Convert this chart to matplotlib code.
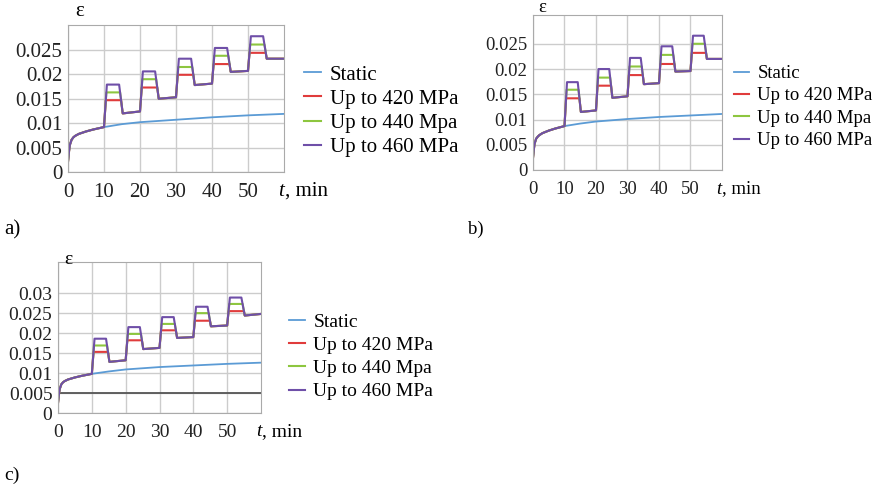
import matplotlib
matplotlib.use("Agg")
import matplotlib.pyplot as plt

FONT = 'Liberation Serif'
plt.rcParams['font.family'] = [FONT, 'DejaVu Serif']

# time points of the static creep curves, min
static_t = [0, 0.25, 0.5, 1, 1.5, 2, 3, 5, 7, 10, 15, 20, 30, 40, 50, 60]
static_a = [0.0021, 0.0040, 0.0055, 0.0066, 0.0071, 0.0074, 0.0078, 0.0083,
            0.0087, 0.0092, 0.0098, 0.0102, 0.0107, 0.0112, 0.0116, 0.0119]
static_b = [0.0024, 0.0040, 0.0052, 0.0062, 0.0066, 0.0069, 0.0073, 0.0078,
            0.0082, 0.0087, 0.0092, 0.0096, 0.0101, 0.0105, 0.0108, 0.0111]
static_c = [0.0025, 0.0045, 0.0060, 0.0072, 0.0077, 0.0080, 0.0084, 0.0089,
            0.0093, 0.0098, 0.0104, 0.0109, 0.0115, 0.0119, 0.0123, 0.0126]

# loading cycles start times
cycle_t = [10, 20, 30, 40, 50]

# strain before loading / after unloading in each cycle, and at 60 min
base_start_a = [0.0092, 0.0124, 0.0153, 0.0181, 0.0207]
base_end_a = [0.0120, 0.0150, 0.0178, 0.0205, 0.0232]
final_a = 0.0232
peak420_a = [0.0147, 0.0173, 0.0199, 0.0221, 0.0244]
peak440_a = [0.0163, 0.0190, 0.0215, 0.0238, 0.0261]
peak460_a = [0.0179, 0.0206, 0.0232, 0.0254, 0.0278]

base_start_b = [0.0087, 0.0118, 0.0146, 0.0172, 0.0196]
base_end_b = [0.0115, 0.0143, 0.0170, 0.0195, 0.0220]
final_b = 0.0220
peak420_b = [0.0142, 0.0167, 0.0188, 0.0210, 0.0232]
peak440_b = [0.0159, 0.0183, 0.0205, 0.0228, 0.0250]
peak460_b = [0.0174, 0.0200, 0.0222, 0.0245, 0.0266]

base_start_c = [0.0098, 0.0132, 0.0163, 0.0190, 0.0219]
base_end_c = [0.0128, 0.0160, 0.0188, 0.0217, 0.0244]
final_c = 0.0248
peak420_c = [0.0153, 0.0182, 0.0207, 0.0231, 0.0255]
peak440_c = [0.0169, 0.0198, 0.0223, 0.0250, 0.0273]
peak460_c = [0.0186, 0.0215, 0.0240, 0.0266, 0.0289]

labels = ['Static', 'Up to 420 MPa', 'Up to 440 Mpa', 'Up to 460 MPa']
colors = ['#5b9bd5', '#e03c3c', '#8dc63f', '#6f4fa8']


def cyclic_path(se, b0, b1, pk, ptop, final):
    # follows static curve up to first cycle, then load / hold / unload
    t = [x for x in static_t if x < cycle_t[0]]
    e = se[:len(t)]
    for i, t0 in enumerate(cycle_t):
        up = 0.8 * (pk[i] - b0[i]) / (ptop[i] - b0[i])
        down = 4.2 + (ptop[i] - pk[i]) / (ptop[i] - b1[i])
        t += [t0, t0 + up, t0 + down, t0 + 5.2]
        e += [b0[i], pk[i], pk[i], b1[i]]
    t.append(60)
    e.append(final)
    return t, e


def panel(rect, ymax, yticks, ylabels, fs, se, b0, b1, p420, p440, p460, final,
          eps_xy, tlabel_x, leg_xy, leg_sp, letter, letter_xy, line005=False):
    W, H = 879, 491
    l, r, top, bot = rect
    ax = fig.add_axes([l / W, 1 - bot / H, (r - l) / W, (bot - top) / H])
    ax.plot(static_t, se, color=colors[0], lw=1.3, label=labels[0])
    for pk, c, lab in zip([p420, p440, p460], colors[1:], labels[1:]):
        t, e = cyclic_path(se, b0, b1, pk, p460, final)
        ax.plot(t, e, color=c, lw=1.5, label=lab)
    if line005:
        ax.axhline(0.005, color='#555555', lw=1.3, zorder=1)
    ax.set_xlim(0, 60)
    ax.set_ylim(0, ymax)
    ax.set_xticks([0, 10, 20, 30, 40, 50])
    ax.set_yticks(yticks)
    ax.set_yticklabels(ylabels)
    ax.tick_params(length=0, labelsize=fs, colors='#222222')
    ax.tick_params(axis='x', pad=8)
    ax.tick_params(axis='y', pad=4)
    ax.grid(True, color='#cccccc', lw=1)
    ax.set_axisbelow(True)
    for s in ax.spines.values():
        s.set_color('#aaaaaa')
    fig.text(eps_xy[0] / W, 1 - eps_xy[1] / H, 'ε', fontsize=fs,
             ha='center', va='center')
    ty = 1 - (bot + 19) / H
    fig.text(tlabel_x / W, ty, 't', fontsize=fs, style='italic',
             ha='left', va='center')
    fig.text((tlabel_x + fs * 0.45) / W, ty, ', min', fontsize=fs,
             ha='left', va='center')
    ax.legend(loc='upper left', bbox_to_anchor=(leg_xy[0] / W, 1 - leg_xy[1] / H),
              bbox_transform=fig.transFigure, frameon=False, fontsize=fs,
              handlelength=0.8, handletextpad=0.45, labelspacing=leg_sp,
              borderpad=0, borderaxespad=0)
    fig.text(letter_xy[0] / W, 1 - letter_xy[1] / H, letter, fontsize=fs,
             ha='left', va='center')
    return ax


fig = plt.figure(figsize=(8.79, 4.91), dpi=100)

yt = [0, 0.005, 0.01, 0.015, 0.02, 0.025]
yl = ['0', '0.005', '0.01', '0.015', '0.02', '0.025']

panel((68, 284, 25, 172), 0.0301, yt, yl, 15,
      static_a, base_start_a, base_end_a, peak420_a, peak440_a, peak460_a, final_a,
      (80, 12), 278, (304, 65), 0.22, 'a)', (4, 230))
panel((533, 722, 15, 170), 0.0307, yt, yl, 13.5,
      static_b, base_start_b, base_end_b, peak420_b, peak440_b, peak460_b, final_b,
      (542, 8), 716, (734, 65), 0.28, 'b)', (468, 229))
panel((58, 261, 262, 413), 0.0378, yt + [0.03], yl + ['0.03'], 14,
      static_c, base_start_c, base_end_c, peak420_c, peak440_c, peak460_c, final_c,
      (68, 259), 256, (289, 313), 0.29, 'c)', (4, 475), line005=True)

fig.savefig('out.png', dpi=100)
